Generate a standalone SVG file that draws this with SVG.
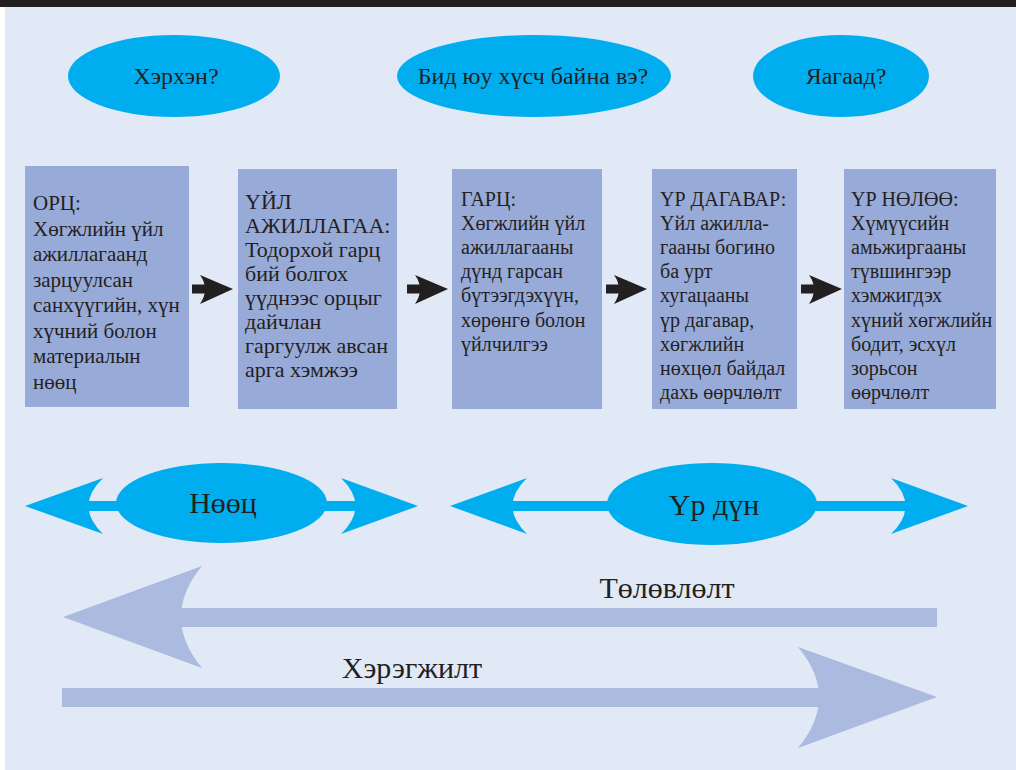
<svg xmlns="http://www.w3.org/2000/svg" width="1016" height="770" viewBox="0 0 1016 770">
<style>
.bg{fill:#E1E9F6}
.cy{fill:#00AEEF}
.box{fill:#98AAD8}
.big{fill:#AABBDF}
.ink{fill:#231F20}
text{font-family:"Liberation Serif","Times New Roman",serif;fill:#231F20}
.q{font-size:24px;text-anchor:middle}
.b1{font-size:21px}
.b2{font-size:22px}
.b3{font-size:20px}
.lbl{font-size:30px;text-anchor:middle}
</style>
<rect x="0" y="0" width="1016" height="770" fill="#ffffff"/>
<rect class="bg" x="5" y="0" width="1011" height="770"/>
<rect x="0" y="0" width="1016" height="7" fill="#231F20"/>

<g id="q-how">
<ellipse class="cy" cx="174" cy="76" rx="106" ry="41"/>
<text class="q" x="176" y="84">Хэрхэн?</text>
</g>
<g id="q-what">
<ellipse class="cy" cx="534" cy="76" rx="137" ry="41"/>
<text class="q" x="533" y="84">Бид юу хүсч байна вэ?</text>
</g>
<g id="q-why">
<ellipse class="cy" cx="841" cy="76" rx="88" ry="41"/>
<text class="q" x="846" y="84">Яагаад?</text>
</g>

<g id="box-input">
<rect class="box" x="25" y="166" width="164" height="241"/>
<text class="b1" x="33" y="210">ОРЦ:</text>
<text class="b1" x="33" y="236">Хөгжлийн үйл</text>
<text class="b1" x="33" y="261">ажиллагаанд</text>
<text class="b1" x="33" y="287">зарцуулсан</text>
<text class="b1" x="33" y="312">санхүүгийн, хүн</text>
<text class="b1" x="33" y="338">хүчний болон</text>
<text class="b1" x="33" y="363">материалын</text>
<text class="b1" x="33" y="389">нөөц</text>
</g>
<g id="box-activity">
<rect class="box" x="238" y="169" width="159" height="240"/>
<text class="b2" x="245" y="209">ҮЙЛ</text>
<text class="b2" x="245" y="233">АЖИЛЛАГАА:</text>
<text class="b2" x="245" y="257">Тодорхой гарц</text>
<text class="b2" x="245" y="281">бий болгох</text>
<text class="b2" x="245" y="305">үүднээс орцыг</text>
<text class="b2" x="245" y="329">дайчлан</text>
<text class="b2" x="245" y="353">гаргуулж авсан</text>
<text class="b2" x="245" y="377">арга хэмжээ</text>
</g>
<g id="box-output">
<rect class="box" x="452" y="169" width="150" height="240"/>
<text class="b3" x="461" y="206">ГАРЦ:</text>
<text class="b3" x="461" y="230">Хөгжлийн үйл</text>
<text class="b3" x="461" y="254">ажиллагааны</text>
<text class="b3" x="461" y="278">дүнд гарсан</text>
<text class="b3" x="461" y="302">бүтээгдэхүүн,</text>
<text class="b3" x="461" y="327">хөрөнгө болон</text>
<text class="b3" x="461" y="351">үйлчилгээ</text>
</g>
<g id="box-outcome">
<rect class="box" x="652" y="169" width="145" height="240"/>
<text class="b3" x="660" y="206">ҮР ДАГАВАР:</text>
<text class="b3" x="660" y="230">Үйл ажилла-</text>
<text class="b3" x="660" y="254">гааны богино</text>
<text class="b3" x="660" y="278">ба урт</text>
<text class="b3" x="660" y="302">хугацааны</text>
<text class="b3" x="660" y="327">үр дагавар,</text>
<text class="b3" x="660" y="351">хөгжлийн</text>
<text class="b3" x="660" y="375">нөхцөл байдал</text>
<text class="b3" x="660" y="399">дахь өөрчлөлт</text>
</g>
<g id="box-impact">
<rect class="box" x="844" y="169" width="152" height="240"/>
<text class="b3" x="851" y="206">ҮР НӨЛӨӨ:</text>
<text class="b3" x="851" y="230">Хүмүүсийн</text>
<text class="b3" x="851" y="254">амьжиргааны</text>
<text class="b3" x="851" y="278">түвшингээр</text>
<text class="b3" x="851" y="302">хэмжигдэх</text>
<text class="b3" x="851" y="327">хүний хөгжлийн</text>
<text class="b3" x="851" y="351">бодит, эсхүл</text>
<text class="b3" x="851" y="375">зорьсон</text>
<text class="b3" x="851" y="399">өөрчлөлт</text>
</g>

<g id="connectors">
<g class="ink">
<rect x="192" y="284.5" width="14" height="9"/>
<path d="M233,289 L200,275 Q210,289 200,304 Z"/>
<rect x="407" y="284.5" width="14" height="9"/>
<path d="M448,289 L415,275 Q425,289 415,304 Z"/>
<rect x="606" y="284.5" width="14" height="9"/>
<path d="M647,289 L614,275 Q624,289 614,304 Z"/>
<rect x="801" y="284.5" width="14" height="9"/>
<path d="M842,289 L809,275 Q819,289 809,304 Z"/>
</g>
</g>

<g id="resources">
<g class="cy">
<path d="M25,506 L103,478 Q74,506 103,534 Z"/>
<rect x="87" y="501" width="60" height="10"/>
<path d="M418,506 L341,478 Q370,506 341,534 Z"/>
<rect x="300" y="501" width="58" height="10"/>
<ellipse cx="221.5" cy="503" rx="105.5" ry="40"/>
</g>
<text class="lbl" x="223" y="513">Нөөц</text>
</g>

<g id="results">
<g class="cy">
<path d="M450,506 L527,478 Q498,506 527,534 Z"/>
<rect x="511" y="501" width="120" height="10"/>
<path d="M968,506 L891,478 Q920,506 891,534 Z"/>
<rect x="790" y="501" width="117" height="10"/>
<ellipse cx="712" cy="504" rx="105" ry="41"/>
</g>
<text class="lbl" x="714" y="515">Үр дүн</text>
</g>

<g id="planning">
<g class="big">
<path d="M63,617 L202,566 Q160,617 202,668 Z"/>
<rect x="178" y="608" width="759" height="19"/>
</g>
<text class="lbl" x="667" y="598">Төлөвлөлт</text>
</g>

<g id="implementation">
<g class="big">
<path d="M937,697 L798,647 Q840,697 798,748 Z"/>
<rect x="62" y="688" width="760" height="19"/>
</g>
<text class="lbl" x="412" y="678">Хэрэгжилт</text>
</g>
</svg>
